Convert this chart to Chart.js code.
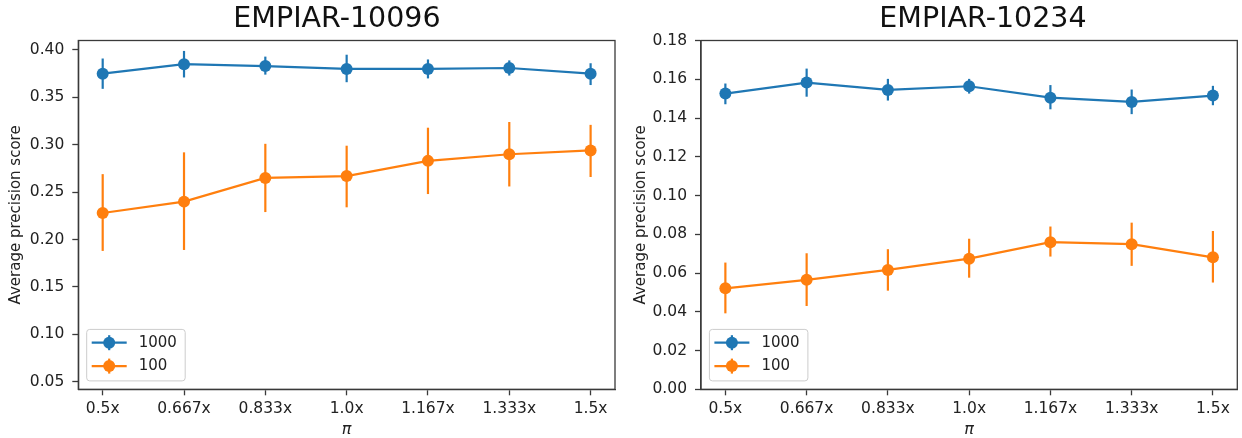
<!DOCTYPE html>
<html><head><meta charset="utf-8">
<script src="https://cdn.jsdelivr.net/npm/chart.js@4.4.1/dist/chart.umd.min.js"></script>
<style>
html,body{margin:0;padding:0;background:#fff;overflow:hidden;width:1242px;height:438px;position:relative;}
canvas{position:absolute;top:0;}
#c1{left:0;} #c2{left:625px;}
</style></head><body>
<canvas id="c1" width="674" height="438"></canvas>
<canvas id="c2" width="716" height="438"></canvas>
<script>
const categories = ['0.5x','0.667x','0.833x','1.0x','1.167x','1.333x','1.5x'];
const seriesNames = ['1000','100'];
const titles = ['EMPIAR-10096','EMPIAR-10234'];
// EMPIAR-10096
const a1000   = [0.375,0.385,0.383,0.380,0.380,0.381,0.375];
const a1000Lo = [0.359,0.371,0.374,0.366,0.370,0.373,0.363];
const a1000Hi = [0.391,0.399,0.393,0.395,0.390,0.389,0.386];
const a100    = [0.228,0.240,0.265,0.267,0.283,0.290,0.294];
const a100Lo  = [0.188,0.189,0.229,0.234,0.248,0.256,0.266];
const a100Hi  = [0.269,0.292,0.301,0.299,0.318,0.324,0.321];
// EMPIAR-10234
const b1000   = [0.1526,0.1583,0.1545,0.1564,0.1505,0.1483,0.1516];
const b1000Lo = [0.1471,0.1510,0.1490,0.1526,0.1445,0.1420,0.1466];
const b1000Hi = [0.1578,0.1655,0.1602,0.1602,0.1570,0.1547,0.1566];
const b100    = [0.0521,0.0565,0.0616,0.0674,0.0759,0.0749,0.0681];
const b100Lo  = [0.0392,0.0430,0.0509,0.0576,0.0685,0.0637,0.0551];
const b100Hi  = [0.0654,0.0702,0.0723,0.0777,0.0840,0.0860,0.0817];
const yTicksA = [0.05,0.10,0.15,0.20,0.25,0.30,0.35,0.40];
const yTicksB = [0.00,0.02,0.04,0.06,0.08,0.10,0.12,0.14,0.16,0.18];

const FONT = "'DejaVu Sans', sans-serif";
Chart.defaults.font.family = FONT;
Chart.defaults.color = '#222';
const BLUE = '#1f77b4', ORANGE = '#ff7f0e', AXC = '#3a3a3a';

function makeDs(label, color, vals, lo, hi) {
  return { label, data: vals.map((v,i)=>({x:i,y:v})), errLo: lo, errHi: hi,
    borderColor: color, backgroundColor: color, borderWidth: 2.2,
    pointRadius: 6, pointHoverRadius: 6, pointBorderWidth: 0,
    pointBackgroundColor: color, tension: 0 };
}

const errorBars = { id:'errorBars', beforeDatasetsDraw(chart){
  const {ctx, scales:{x,y}} = chart;
  chart.data.datasets.forEach(d => {
    ctx.save(); ctx.strokeStyle = d.borderColor; ctx.lineWidth = 2.2;
    d.data.forEach((p,i) => {
      const px = x.getPixelForValue(p.x);
      ctx.beginPath();
      ctx.moveTo(px, y.getPixelForValue(d.errLo[i]));
      ctx.lineTo(px, y.getPixelForValue(d.errHi[i]));
      ctx.stroke();
    });
    ctx.restore();
  });
}};

const frame = { id:'frame', afterDatasetsDraw(chart){
  const {ctx, chartArea:ca} = chart;
  ctx.save(); ctx.strokeStyle = AXC; ctx.lineWidth = 1.3;
  ctx.strokeRect(ca.left, ca.top, ca.right-ca.left, ca.bottom-ca.top);
  ctx.restore();
}};

const boxLegend = { id:'boxLegend', afterDraw(chart){
  const {ctx, chartArea:ca} = chart;
  const w = 98.5, h = 51.5, l = ca.left + 8.4, t = ca.bottom - 8.4 - h;
  ctx.save();
  ctx.beginPath(); ctx.roundRect(l, t, w, h, 3);
  ctx.fillStyle = 'rgba(255,255,255,0.8)'; ctx.fill();
  ctx.strokeStyle = '#cccccc'; ctx.lineWidth = 1; ctx.stroke();
  chart.data.datasets.forEach((d,i) => {
    const yy = t + 13.3 + i*23.4;
    ctx.strokeStyle = d.borderColor; ctx.lineWidth = 2.2;
    ctx.beginPath(); ctx.moveTo(l+5, yy); ctx.lineTo(l+40, yy); ctx.stroke();
    ctx.beginPath(); ctx.moveTo(l+22.5, yy-7.5); ctx.lineTo(l+22.5, yy+7.5); ctx.stroke();
    ctx.fillStyle = d.borderColor;
    ctx.beginPath(); ctx.arc(l+22.5, yy, 6, 0, Math.PI*2); ctx.fill();
    ctx.fillStyle = '#222'; ctx.font = '15px ' + FONT;
    ctx.textBaseline = 'middle'; ctx.textAlign = 'left';
    ctx.fillText(d.label, l+52, yy);
  });
  ctx.restore();
}};

function makeChart(id, title, datasets, ymin, ymax, yTicks, yW, rW) {
  return new Chart(document.getElementById(id), {
    type: 'line',
    data: { datasets },
    plugins: [errorBars, frame, boxLegend],
    options: {
      responsive: false, animation: false, devicePixelRatio: 1,
      layout: { padding: 0 },
      plugins: {
        legend: { display: false }, tooltip: { enabled: false },
        title: { display: true, text: title, fullSize: true, color: '#111',
          font: { size: 28.5, weight: 'normal', family: FONT }, padding: { top: 2.6, bottom: 3.7 } }
      },
      scales: {
        x: { type: 'linear', min: -0.3, max: 6.3,
          afterBuildTicks: s => { s.ticks = categories.map((c,i) => ({value: i})); },
          ticks: { callback: v => categories[v], font: { size: 15.5 }, color: '#222', padding: 4,
            autoSkip: false, maxRotation: 0, minRotation: 0 },
          grid: { drawOnChartArea: false, drawTicks: true, tickLength: 6, tickColor: AXC, tickWidth: 1.3 },
          border: { display: true, color: AXC, width: 1.3 },
          title: { display: true, text: 'π', color: '#222', font: { size: 16, style: 'italic', lineHeight: 1 }, padding: { top: 0, bottom: 0 } },
          afterFit: s => { s.height = 48.7; } },
        y: { type: 'linear', position: 'left', min: ymin, max: ymax,
          afterBuildTicks: s => { s.ticks = yTicks.map(v => ({value: v})); },
          ticks: { callback: v => v.toFixed(2), font: { size: 15.5 }, color: '#222', padding: 8, autoSkip: false },
          grid: { drawOnChartArea: false, drawTicks: true, tickLength: 6, tickColor: AXC, tickWidth: 1.3 },
          border: { display: true, color: AXC, width: 1.3 },
          title: { display: true, text: 'Average precision score', color: '#222', font: { size: 15 }, padding: { top: 6.7, bottom: 0 } },
          afterFit: s => { s.width = yW; } },
        yr: { type: 'linear', position: 'right', display: true,
          grid: { display: false }, border: { display: false }, ticks: { display: false },
          afterFit: s => { s.width = rW; } }
      }
    }
  });
}

makeChart('c1', titles[0], [
  makeDs(seriesNames[0], BLUE, a1000, a1000Lo, a1000Hi),
  makeDs(seriesNames[1], ORANGE, a100, a100Lo, a100Hi)
], 0.042, 0.41, yTicksA, 78.3, 59);

makeChart('c2', titles[1], [
  makeDs(seriesNames[0], BLUE, b1000, b1000Lo, b1000Hi),
  makeDs(seriesNames[1], ORANGE, b100, b100Lo, b100Hi)
], 0, 0.18, yTicksB, 76, 103.7);
</script>
</body></html>
